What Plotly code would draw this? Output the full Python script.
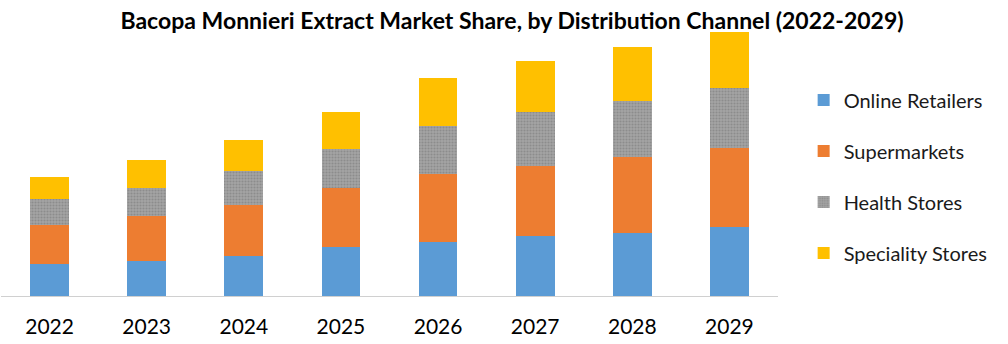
import plotly.graph_objects as go

years = ["2022", "2023", "2024", "2025", "2026", "2027", "2028", "2029"]
online = [32, 35, 40, 49, 54, 60, 63, 69]
supermarkets = [39, 45, 51, 59, 68, 70, 76, 79]
health = [26, 28, 34, 39, 48, 54, 56, 60]
speciality = [22, 28, 31, 37, 48, 51, 54, 56]

series = [
    ("Online Retailers", online, "#5B9BD5"),
    ("Supermarkets", supermarkets, "#ED7D31"),
    ("Health Stores", health, "#A5A5A5"),
    ("Speciality Stores", speciality, "#FFC000"),
]

fig = go.Figure()
for name, vals, col in series:
    marker = dict(color=col, line=dict(width=0))
    if name == "Health Stores":
        marker["pattern"] = dict(shape=".", fgcolor="#8C8C8C", bgcolor="#A5A5A5",
                                 size=3, solidity=0.4, fillmode="replace")
    fig.add_trace(go.Bar(name=name, x=years, y=vals, marker=marker,
                         legendgroup=name, width=0.4))

fig.update_layout(
    width=1008, height=344,
    barmode="stack",
    paper_bgcolor="white", plot_bgcolor="white",
    margin=dict(l=1, r=230, t=30, b=48),
    title=dict(text="<b>Bacopa Monnieri Extract Market Share, by Distribution Channel (2022-2029)</b>",
               x=0.508, xanchor="center", y=0.94, yanchor="middle",
               font=dict(family="Lato", size=23, color="black")),
    font=dict(family="Lato", color="black"),
    legend=dict(x=1.033, xanchor="left", y=0.81, yanchor="top",
                traceorder="grouped", tracegroupgap=22,
                font=dict(family="Lato", size=20, color="#1a1a1a"),
                itemwidth=30),
    showlegend=True,
)
fig.update_xaxes(showline=True, linecolor="#D0D0D0", linewidth=1, ticks="",
                 tickfont=dict(family="Lato", size=21, color="black"),
                 ticklabelstandoff=12, showgrid=False)
fig.update_yaxes(visible=False, range=[0, 266], showgrid=False)

fig.write_html("out.html")
